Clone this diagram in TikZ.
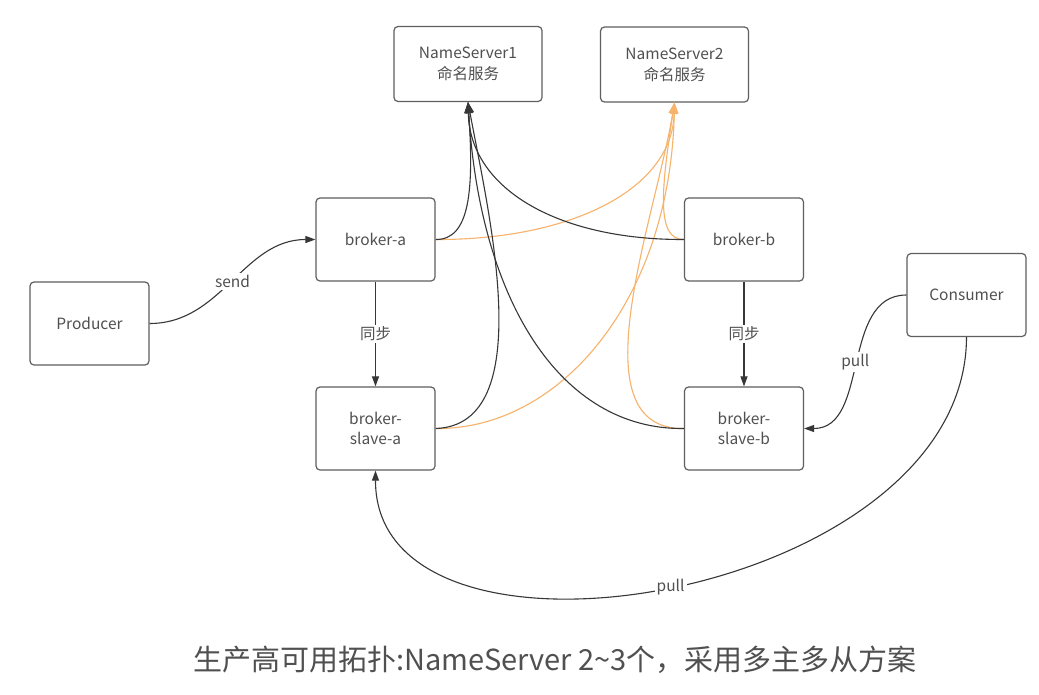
\documentclass[tikz,border=0pt]{standalone}
\usepackage{fontspec}
\setmainfont{Noto Sans CJK SC}
\usetikzlibrary{arrows.meta}
\definecolor{boxc}{RGB}{95,95,95}
\definecolor{txtc}{RGB}{80,80,80}
\definecolor{linec}{RGB}{55,55,55}
\definecolor{orc}{RGB}{247,178,107}
\begin{document}
\begin{tikzpicture}[x=1pt,y=-1pt,
  box/.style={draw=boxc, line width=1.2pt, rounded corners=4pt, minimum width=119pt, minimum height=83pt, inner sep=0pt, align=center, text=txtc, font=\fontsize{15.5}{20}\selectfont, fill=white},
  nsbox/.style={box, minimum width=148pt, minimum height=75pt, font=\fontsize{15.5}{21}\selectfont},
  conn/.style={draw=linec, line width=1.1pt, -{Triangle[length=10pt,width=7pt]}},
  blk/.style={draw=linec, line width=1.1pt, -{Triangle[length=11pt,width=8pt]}},
  org/.style={draw=orc, line width=1.1pt, -{Triangle[length=11pt,width=8pt]}},
  lbl/.style={fill=white, text=txtc, font=\fontsize{15.5}{17}\selectfont, inner sep=2pt}]
\useasboundingbox[fill=white] (0,0) rectangle (1039,694);

% nodes
\node[nsbox] (ns1) at (468,64) {NameServer1\\命名服务};
\node[nsbox] (ns2) at (674.5,64.5) {NameServer2\\命名服务};
\node[box] (ba) at (375.5,239.5) {broker-a};
\node[box] (bb) at (744,239.5) {broker-b};
\node[box] (prod) at (89.5,323.5) {Producer};
\node[box] (cons) at (966.5,295) {Consumer};
\node[box] (sa) at (375.5,428.5) {broker-\\slave-a};
\node[box] (sb) at (744,428.5) {broker-\\slave-b};

% orange registrations to NameServer2
\draw[org] (ba.east) .. controls (570,240) and (672,190) .. (ns2.south);
\draw[org] (bb.west) .. controls (655,240) and (662,185) .. (ns2.south);
\draw[org] (sa.east) .. controls (560,430) and (670,300) .. (ns2.south);
\draw[org] (sb.west) .. controls (575,430) and (655,220) .. (ns2.south);

% black registrations to NameServer1
\draw[blk] (ba.east) .. controls (470,240) and (474,190) .. (ns1.south);
\draw[blk] (bb.west) .. controls (560,240) and (470,190) .. (ns1.south);
\draw[blk] (sa.east) .. controls (540,425) and (488,210) .. (ns1.south);
\draw[blk] (sb.west) .. controls (560,430) and (480,300) .. (ns1.south);

% other connectors
\draw[conn] (prod.east) to[out=0,in=180] node[lbl]{send} (ba.west);
\draw[conn] (ba.south) -- node[lbl]{同步} (sa.north);
\draw[conn] (bb.south) -- node[lbl]{同步} (sb.north);
\draw[conn] (cons.west) to[out=180,in=0] node[lbl]{pull} (sb.east);
\draw[conn] (cons.south) .. controls (966,600) and (375,696) .. node[lbl,pos=0.5]{pull} (sa.south);

% caption
\node[text=txtc, font=\fontsize{29}{33}\selectfont, inner sep=0pt] (cap) at (555,660) {生产高可用拓扑:NameServer 2\textasciitilde3个，采用多主多从方案};
\end{tikzpicture}
\end{document}
